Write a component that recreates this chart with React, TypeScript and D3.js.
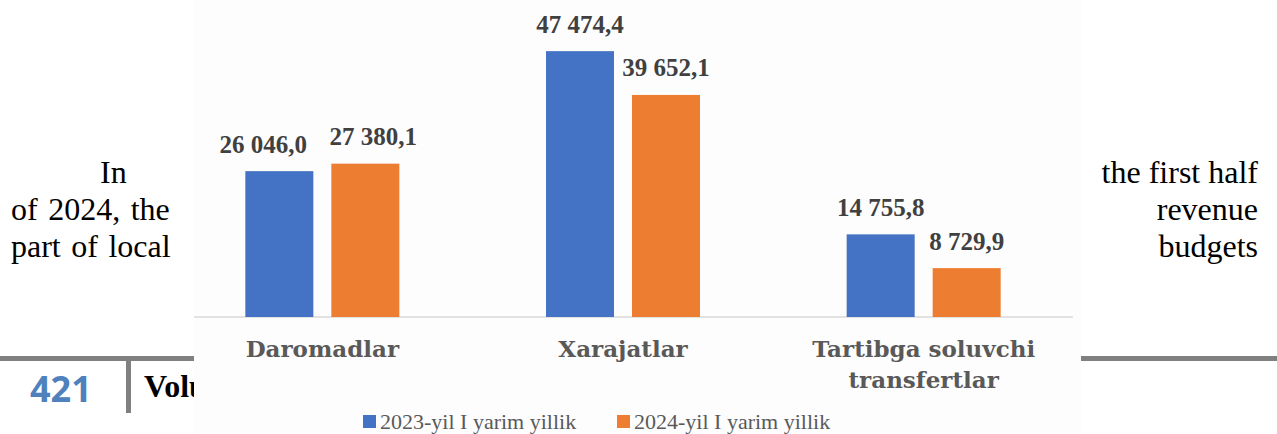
import * as React from 'react';
import * as d3 from 'd3';

const categories = ['Daromadlar', 'Xarajatlar', 'Tartibga soluvchi transfertlar'];
const categoryLines = [['Daromadlar'], ['Xarajatlar'], ['Tartibga soluvchi', 'transfertlar']];
const seriesNames = ['2023-yil I yarim yillik', '2024-yil I yarim yillik'];
const values2023 = [26046.0, 47474.4, 14755.8];
const values2024 = [27380.1, 39652.1, 8729.9];
const valueLabels2023 = ['26 046,0', '47 474,4', '14 755,8'];
const valueLabels2024 = ['27 380,1', '39 652,1', '8 729,9'];

const COLORS = ['#4472C4', '#ED7D31'];

// the first pair of labels is pushed apart in the source chart
const LABEL_DX = [
  [-16, 0, 0],
  [8, 0, 0],
];

const W = 1277;
const H = 434;

// chart panel pasted over the page
const PANEL = { x0: 194, x1: 1081 };
const BASE = 317;

export default function App() {
  React.useEffect(() => {
    document.body.style.margin = '0';
  }, []);

  const x0 = d3.scaleBand<string>().domain(categories).range([172, 1074]);
  const x1 = d3
    .scaleBand<number>()
    .domain([0, 1])
    .range([0, 154])
    .paddingInner(18 / 86);
  const y = d3.scaleLinear().domain([0, 50000]).range([BASE, 37]);

  const series = [
    { values: values2023, labels: valueLabels2023 },
    { values: values2024, labels: valueLabels2024 },
  ];

  const groupLeft = (c: string) => (x0(c) ?? 0) + x0.bandwidth() / 2 - 77;

  const serif = '"Liberation Serif", "Times New Roman", serif';

  return (
    <svg
      width={W}
      height={H}
      viewBox={`0 0 ${W} ${H}`}
      style={{ position: 'absolute', left: 0, top: 0, display: 'block', background: '#fff' }}
    >
      {/* page underneath */}
      <g fontFamily={serif} fontSize={32} fill="#000">
        <text x={100} y={183}>In</text>
        <text x={11} y={220} wordSpacing={2.5}>of 2024, the</text>
        <text x={11} y={257} wordSpacing={2.5}>part of local</text>
        <text x={1258} y={183} textAnchor="end">the first half</text>
        <text x={1258} y={220} textAnchor="end">revenue</text>
        <text x={1258} y={257} textAnchor="end">budgets</text>
        <text x={144} y={397} fontWeight={700}>Volume</text>
      </g>
      <rect x={0} y={356} width={W} height={5} fill="#808080" />
      <rect x={126} y={356} width={5} height={57} fill="#808080" />
      <text
        x={30}
        y={402}
        fontFamily='"Noto Sans", "Open Sans", sans-serif'
        fontWeight={700}
        fontSize={36}
        fill="#4F81BD"
      >
        421
      </text>

      {/* chart panel */}
      <rect x={PANEL.x0} y={0} width={PANEL.x1 - PANEL.x0} height={H} fill="#fdfdfd" />
      <line x1={PANEL.x0} x2={1073} y1={BASE} y2={BASE} stroke="#d9d9d9" strokeWidth={1.5} />

      {categories.map((c, ci) => (
        <g key={c} transform={`translate(${groupLeft(c)},0)`}>
          {series.map((s, si) => {
            const bx = x1(si) ?? 0;
            const top = y(s.values[ci]);
            return (
              <g key={si}>
                <rect x={bx} y={top} width={x1.bandwidth()} height={BASE - top} fill={COLORS[si]} />
                <text
                  x={bx + x1.bandwidth() / 2 + LABEL_DX[si][ci]}
                  y={top - 18.5}
                  textAnchor="middle"
                  fontFamily={serif}
                  fontWeight={700}
                  fontSize={25}
                  fill="#404040"
                >
                  {s.labels[ci]}
                </text>
              </g>
            );
          })}
          {categoryLines[ci].map((line, li) => (
            <text
              key={line}
              x={77}
              y={357 + li * 31}
              textAnchor="middle"
              fontFamily='"DejaVu Serif", serif'
              fontWeight={700}
              fontSize={23}
              fill="#595959"
            >
              {line}
            </text>
          ))}
        </g>
      ))}

      {/* legend */}
      {seriesNames.map((name, i) => {
        const lx = [363, 617][i];
        return (
          <g key={name}>
            <rect x={lx} y={415} width={13} height={13} fill={COLORS[i]} />
            <text x={lx + 17} y={429} fontFamily={serif} fontSize={22} fill="#595959">
              {name}
            </text>
          </g>
        );
      })}
    </svg>
  );
}
